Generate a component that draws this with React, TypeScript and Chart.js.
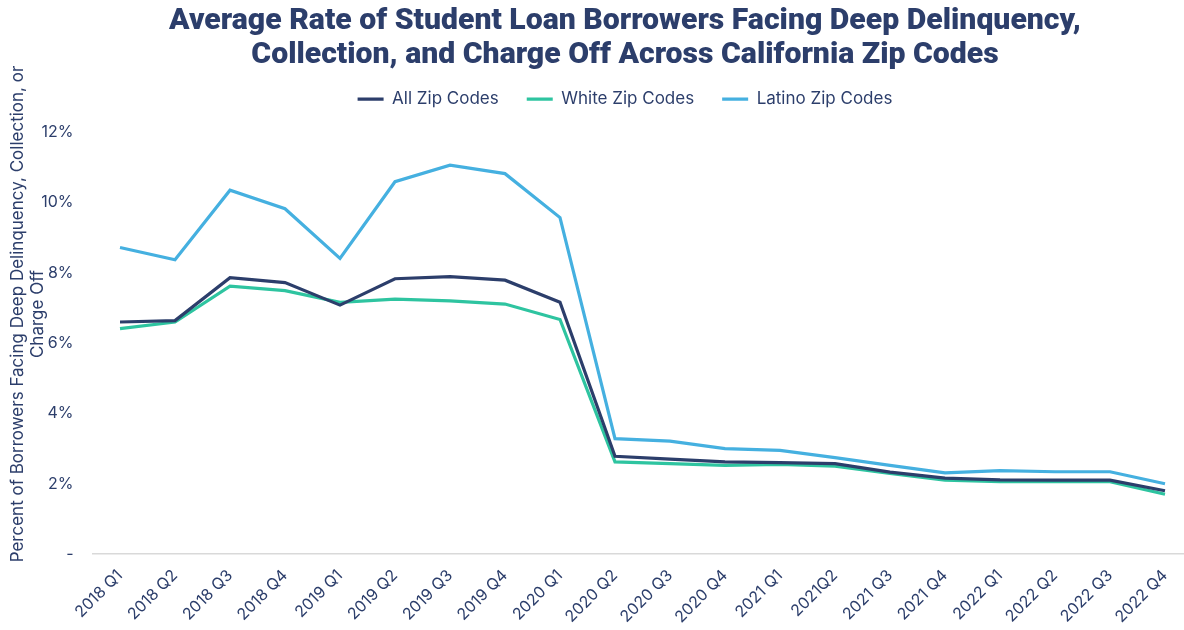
import React, { useEffect, useRef } from "react";
import { Chart, registerables } from "chart.js";

Chart.register(...registerables);

const categories = [
  "2018 Q1", "2018 Q2", "2018 Q3", "2018 Q4",
  "2019 Q1", "2019 Q2", "2019 Q3", "2019 Q4",
  "2020 Q1", "2020 Q2", "2020 Q3", "2020 Q4",
  "2021 Q1", "2021Q2", "2021 Q3", "2021 Q4",
  "2022 Q1", "2022 Q2", "2022 Q3", "2022 Q4",
];

const allZip = [6.60, 6.64, 7.86, 7.72, 7.08, 7.83, 7.89, 7.79, 7.16, 2.78, 2.70, 2.62, 2.60, 2.57, 2.33, 2.16, 2.11, 2.10, 2.10, 1.80];
const whiteZip = [6.41, 6.60, 7.62, 7.49, 7.16, 7.25, 7.20, 7.11, 6.67, 2.62, 2.57, 2.52, 2.55, 2.50, 2.29, 2.10, 2.06, 2.06, 2.06, 1.70];
const latinoZip = [8.72, 8.37, 10.35, 9.82, 8.41, 10.59, 11.06, 10.82, 9.57, 3.28, 3.21, 3.00, 2.95, 2.74, 2.52, 2.31, 2.37, 2.34, 2.34, 2.00];

const titleLines = [
  "Average Rate of Student Loan Borrowers Facing Deep Delinquency,",
  "Collection, and Charge Off Across California Zip Codes",
];
const yTitleLines = ["Percent of Borrowers Facing Deep Delinquency, Collection, or", "Charge Off"];

const NAVY = "#2c3e6b";
const TEAL = "#2ec4a0";
const BLUE = "#45b0e0";

const CANVAS_W = 1250;
const CANVAS_H = 630;

const legendHeightPlugin = {
  id: "legendHeight",
  beforeInit(chart: any) {
    const origFit = chart.legend.fit;
    chart.legend.fit = function () {
      origFit.call(this);
      this.height = 69.5;
    };
  },
};

const yTitlePlugin = {
  id: "yTitle",
  afterDraw(chart: any) {
    const ctx = chart.ctx;
    ctx.save();
    ctx.fillStyle = NAVY;
    ctx.font = "17px Inter";
    ctx.textAlign = "center";
    ctx.textBaseline = "middle";
    const xs = [18, 38];
    yTitleLines.forEach((line, i) => {
      ctx.save();
      ctx.translate(xs[i], 314);
      ctx.rotate(-Math.PI / 2);
      ctx.fillText(line, 0, 0);
      ctx.restore();
    });
    ctx.restore();
  },
};

export default function App() {
  const ref = useRef<HTMLCanvasElement | null>(null);
  useEffect(() => {
    if (!ref.current) return;
    const chart = new Chart(ref.current, {
      type: "line",
      data: {
        labels: categories,
        datasets: [
          { label: "All Zip Codes", data: allZip, borderColor: NAVY, backgroundColor: NAVY, borderWidth: 3.2, pointRadius: 0, tension: 0 },
          { label: "White Zip Codes", data: whiteZip, borderColor: TEAL, backgroundColor: TEAL, borderWidth: 3.2, pointRadius: 0, tension: 0 },
          { label: "Latino Zip Codes", data: latinoZip, borderColor: BLUE, backgroundColor: BLUE, borderWidth: 3.2, pointRadius: 0, tension: 0 },
        ],
      },
      plugins: [legendHeightPlugin, yTitlePlugin],
      options: {
        responsive: false,
        animation: false,
        layout: { padding: { left: 0, right: 0, top: 0, bottom: 0 } },
        plugins: {
          title: {
            display: true,
            text: titleLines,
            color: NAVY,
            font: { family: "Roboto", size: 30.2, weight: 900, lineHeight: 1.12 },
            padding: { top: 5, bottom: -10 },
          },
          legend: {
            position: "top",
            labels: {
              usePointStyle: true,
              pointStyleWidth: 26,
              pointStyle: "line",
              boxHeight: 4,
              color: NAVY,
              font: { family: "Inter", size: 17 },
              padding: 28,
            },
          },
          tooltip: { enabled: false },
        },
        scales: {
          x: {
            offset: true,
            grid: { display: false },
            border: { display: true, color: "#d9d9d9", width: 1.5 },
            afterFit: (s: any) => { s.height = 76; },
            ticks: {
              color: NAVY,
              font: { family: "Inter", size: 16 },
              minRotation: 45,
              maxRotation: 45,
              autoSkip: false,
              padding: 4,
            },
          },
          y: {
            min: 0,
            max: 12,
            grid: { display: false },
            border: { display: false },
            afterFit: (s: any) => { s.width = 92.5; },
            ticks: {
              stepSize: 2,
              color: NAVY,
              font: { family: "Inter", size: 16 },
              padding: 11,
              callback: (v: any) => (Number(v) === 0 ? "-" : v + "%"),
            },
          },
          yRight: {
            position: "right",
            display: true,
            min: 0,
            max: 12,
            grid: { display: false },
            border: { display: false },
            ticks: { display: false },
            afterFit: (s: any) => { s.width = 57.5; },
          },
        },
      },
    });
    return () => chart.destroy();
  }, []);
  return (
    <div style={{ position: "absolute", left: 0, top: 0, width: 1184, height: 630, overflow: "hidden", background: "#fff" }}>
      <canvas ref={ref} width={CANVAS_W} height={CANVAS_H} style={{ display: "block" }} />
    </div>
  );
}
